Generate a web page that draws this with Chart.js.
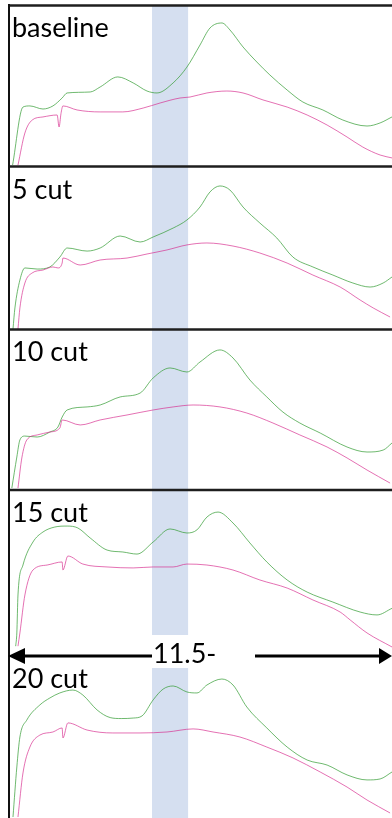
<!DOCTYPE html>
<html><head><meta charset="utf-8">
<script src="https://cdn.jsdelivr.net/npm/chart.js@4.4.1/dist/chart.umd.min.js"></script>
<style>
html,body{margin:0;padding:0;background:#fff;}
#wrap{position:relative;width:392px;height:818px;overflow:hidden;background:#fff;}
#wrap canvas{position:absolute;left:0;}
#ov{position:absolute;left:0;top:0;}
#ov text{font-family:Lato,"Noto Sans",sans-serif;font-size:27px;fill:#000;}
</style></head><body>
<div id="wrap">
<canvas id="c0"></canvas><canvas id="c1"></canvas><canvas id="c2"></canvas><canvas id="c3"></canvas><canvas id="c4"></canvas>
<svg id="ov" width="392" height="818"></svg>
</div>
<script>
// ---------- data (x: relative position 0-100 across the window, y: relative signal 0-100 per panel) ----------
const panelLabels = ['baseline', '5 cut', '10 cut', '15 cut', '20 cut'];
const bandRange = [37.5, 46.9];
const arrowLabel = '11.5-';

const greenBaseline = [[1.2,1.2],[3.9,37],[5.7,37.7],[9.1,35.8],[11.7,37.7],[14.1,42.6],[15.4,45.7],[21.4,46.3],[24,49.4],[28.6,55.6],[32.6,51.9],[36.2,46.9],[38.8,45.7],[43,51.9],[46.6,61.7],[50,75.3],[52.6,85.8],[55.7,88.9],[57.8,84.6],[61.2,74.1],[64.8,64.8],[68.2,56.8],[72.7,47.5],[76.8,40.1],[82,35.2],[87.2,29],[93.5,25.3],[96.9,27.2],[100,30.9]];
const magentaBaseline = [[2.6,1.2],[4.4,21],[6.3,29],[9.1,30.9],[12.8,32.1],[13.3,24.7],[13.8,33],[14.3,37.7],[18,35.2],[24,34],[29.9,34],[35.2,36.4],[39.6,39.5],[44.8,42.6],[47.4,43.2],[51.8,45.7],[57,46.9],[61.2,45.7],[66.4,41.4],[72.7,37],[77.9,32.1],[83.1,25.9],[88.3,18.5],[92.4,12.3],[96.9,7.4],[100,5.6]];

const green5 = [[1.3,0],[1.8,13],[3.1,30.2],[4.4,37.7],[7.6,37],[10.9,38.3],[13.5,44.4],[15.4,50],[20.6,48.1],[24,50],[29.2,57.4],[34.4,53.7],[37.8,56.8],[43,62.3],[46.6,67.3],[50,75.3],[52.6,84.6],[55.2,88.3],[57.8,85.8],[61.2,75.3],[65.6,65.4],[70,56.2],[74.2,44.4],[79.4,38.3],[84.6,33.3],[89.8,28.4],[94.3,25.9],[97.7,28.4],[100,32.1]];
const magenta5 = [[2.6,0],[3.1,13],[4.4,28.4],[6.3,34.6],[9.1,36.4],[11.7,38.3],[13,37.7],[14.1,40.7],[14.3,43.8],[18.8,39.5],[24,42.6],[31,43.8],[36.2,46.3],[41.4,48.8],[46.6,51.9],[51.8,53.1],[58.6,51.2],[65.6,46.9],[72.7,40.7],[79.4,33.3],[86.5,25.9],[91.7,17.9],[95.1,13],[99.5,7.4]];

const green10 = [[1.0,1.2],[2.3,20.5],[3.1,31.1],[4.4,33.5],[7.6,32.9],[10.9,36],[13,39.1],[14.1,45.3],[15.4,49.7],[20.6,51.6],[24,52.8],[29.2,57.8],[34.4,60.2],[37.8,69.6],[42.2,75.8],[46.6,73.3],[50,79.5],[55.2,87],[58.6,82],[63,68.3],[67.4,57.8],[71.6,48.4],[76,41.6],[81.3,35.4],[88.3,26.7],[93.5,23.6],[97.7,24.8],[100,29.2]];
const magenta10 = [[2.6,1.2],[3.6,19.9],[4.9,31.1],[7.6,34.2],[10.9,36],[13.5,38.5],[14.1,43.5],[18.8,40.4],[24,43.5],[31,46.6],[37.8,49.7],[43,51.6],[48.2,52.8],[55.2,51.6],[62.2,47.8],[69,41.6],[76,34.2],[83.1,26.7],[88.3,19.9],[93.5,12.4],[99.5,4.3]];

const green15 = [[2.0,3],[2.3,11.2],[2.6,34.8],[3.9,53.4],[6.5,67.7],[9.1,73.9],[12.2,77],[15.4,77.6],[18.2,76.4],[21.4,70.2],[25.8,62.7],[29.9,61.5],[33.6,60.2],[37.8,67.7],[42.2,75.8],[46.6,73.3],[49.2,75.2],[51.8,83.2],[54.7,86.3],[58.6,79.5],[63,67.1],[67.4,55.3],[72.7,44.1],[77.9,36.6],[84.6,30.4],[91.7,24.2],[96.1,22.4],[100,26.5]];
const magenta15 = [[2.6,3],[3.1,11.2],[4.4,34.8],[6.5,50.3],[10.2,53.4],[14.1,55.3],[14.3,50.3],[15.6,59],[19.5,54],[25.8,52.2],[32.6,51.6],[37.8,52.2],[43,52.2],[46.6,54],[51.8,53.4],[58.6,50.3],[65.6,44.1],[72.7,39.1],[79.4,31.7],[86.5,24.2],[89.1,19.3],[93.5,11.2],[100,2.5]];

const green20 = [[1.3,-2.5],[2.3,28.4],[3.1,46.9],[4.9,57.4],[8.3,66.7],[10.9,71],[13.5,74.1],[16.9,75.9],[19.5,72.8],[23.2,63.6],[26.6,58.9],[29.5,58.3],[32.6,58.6],[34.9,59.9],[37.8,69.8],[40.4,76.5],[43,78.4],[46.6,74.7],[49.2,74.1],[51.8,79],[55.7,82.7],[58.6,79],[62.2,65.4],[67.4,52.5],[72.7,40.7],[77.9,32.7],[83.1,29.6],[88.3,23.5],[93.5,20.4],[96.9,21],[100,25.3]];
const magenta20 = [[2.6,-2.5],[3.9,24.7],[5.7,40.7],[8.3,48.1],[11.7,50],[14.1,52.5],[14.3,46.3],[15.6,55.6],[20.6,51.2],[27.3,49.4],[34.4,49.4],[41.4,50],[48.2,51.9],[53.4,50],[60.4,46.9],[67.4,40.7],[74.2,34],[81.3,25.3],[88.3,16],[93.5,8],[99.5,0]];

const greenSeries = [greenBaseline, green5, green10, green15, green20];
const magentaSeries = [magentaBaseline, magenta5, magenta10, magenta15, magenta20];

// ---------- layout ----------
const panelTops = [5, 167, 329, 490, 651];
const panelHeights = [162, 162, 161, 161, 167];
const panelYMin = [0, 0, 0, 0, -3.1];
const GREEN = 'rgba(50,155,50,0.7)';
const MAGENTA = 'rgba(214,40,140,0.66)';
const BAND = '#d5dff0';

const bandPlugin = {
  id: 'band',
  beforeDatasetsDraw(chart) {
    const { ctx, chartArea: a, scales: { x } } = chart;
    const x0 = x.getPixelForValue(bandRange[0]);
    const x1 = x.getPixelForValue(bandRange[1]);
    ctx.save();
    ctx.fillStyle = BAND;
    ctx.fillRect(x0, a.top, x1 - x0, a.bottom - a.top);
    ctx.restore();
  }
};

const toPts = arr => arr.map(p => ({ x: p[0], y: p[1] }));

panelLabels.forEach((lab, i) => {
  const cv = document.getElementById('c' + i);
  cv.width = 392; cv.height = panelHeights[i];
  cv.style.top = panelTops[i] + 'px';
  new Chart(cv, {
    type: 'line',
    data: {
      datasets: [
        { label: lab + ' (magenta)', data: toPts(magentaSeries[i]), borderColor: MAGENTA, borderWidth: 1, pointRadius: 0, cubicInterpolationMode: 'monotone', fill: false },
        { label: lab + ' (green)', data: toPts(greenSeries[i]), borderColor: GREEN, borderWidth: 1, pointRadius: 0, cubicInterpolationMode: 'monotone', fill: false }
      ]
    },
    options: {
      responsive: false,
      animation: false,
      events: [],
      layout: { padding: { left: 8, right: 0, top: 0, bottom: 0 } },
      plugins: { legend: { display: false }, tooltip: { enabled: false }, title: { display: false } },
      scales: {
        x: { type: 'linear', min: 0, max: 100, display: false },
        y: { type: 'linear', min: panelYMin[i], max: 100, display: false }
      }
    },
    plugins: [bandPlugin]
  });
});

// ---------- frame, labels and range arrow (overlay) ----------
const NS = 'http://www.w3.org/2000/svg';
const ov = document.getElementById('ov');
function el(tag, attrs, txt) {
  const e = document.createElementNS(NS, tag);
  for (const k in attrs) e.setAttribute(k, attrs[k]);
  if (txt !== undefined) e.textContent = txt;
  ov.appendChild(e);
  return e;
}
// separators (top of panels 1-4)
[5.5, 166.5, 329.5, 490].forEach(y => el('line', { x1: 8, x2: 392, y1: y, y2: y, stroke: '#1e1e1e', 'stroke-width': 2.4 }));
// left frame
el('line', { x1: 9, x2: 9, y1: 4, y2: 818, stroke: '#111', 'stroke-width': 2 });
// panel labels
const labelBaselines = [37, 199, 361, 522, 688];
panelLabels.forEach((lab, i) => el('text', { x: 12, y: labelBaselines[i] }, lab));
// arrow with label
el('rect', { x: 148, y: 635, width: 46, height: 33, fill: '#fff' });
el('line', { x1: 22, x2: 152, y1: 656, y2: 656, stroke: '#000', 'stroke-width': 3 });
el('line', { x1: 255, x2: 382, y1: 656, y2: 656, stroke: '#000', 'stroke-width': 3 });
el('polygon', { points: '8,656 25,648 25,664', fill: '#000' });
el('polygon', { points: '392,656 379,648 379,664', fill: '#000' });
el('text', { x: 153, y: 663 }, arrowLabel);
</script>
</body></html>
